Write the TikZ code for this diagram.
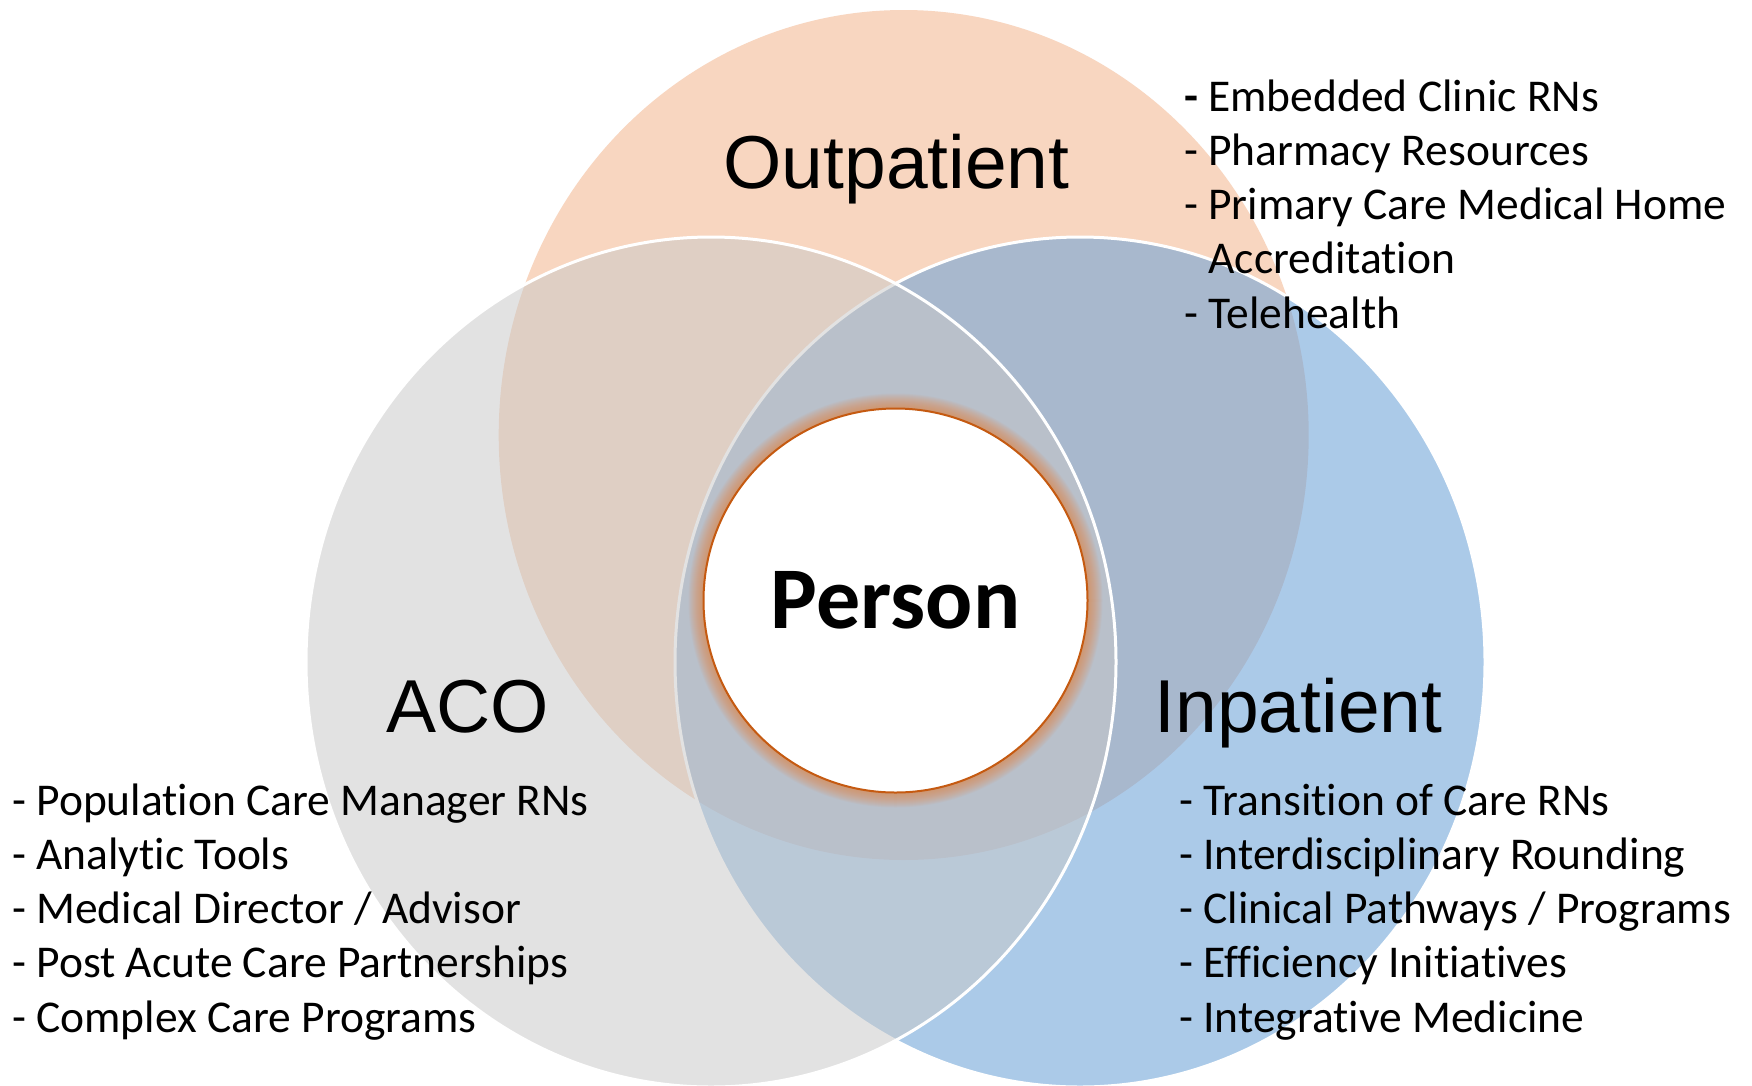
\documentclass[tikz,border=0pt]{standalone}
\usepackage{fontspec}
\setmainfont[Ligatures={NoCommon}]{Carlito}
\newfontfamily\arialf{Liberation Sans}
\definecolor{outF}{RGB}{248,214,192}
\definecolor{inF}{RGB}{109,162,216}
\definecolor{acoF}{RGB}{201,201,201}
\definecolor{personE}{HTML}{C55A11}
\definecolor{glowC}{RGB}{237,125,49}
\begin{document}
\begin{tikzpicture}[x=1pt,y=-1pt,
  region/.style={draw=white, line width=3pt},
  biglabel/.style={font=\arialf\fontsize{75}{80}\selectfont, inner sep=0pt, anchor=base},
  item/.style={font=\fontsize{45.5}{54}\selectfont, inner sep=0pt, anchor=base west}]
\useasboundingbox (0,0) rectangle (1752,1085);
\fill[white] (0,0) rectangle (1752,1085);
% circles
\fill[outF] (903.7,435) ellipse [x radius=405, y radius=425];
\filldraw[region, fill=inF, fill opacity=0.57] (1080,662) ellipse [x radius=405, y radius=425];
\filldraw[region, fill=acoF, fill opacity=0.52] (711,662) ellipse [x radius=405, y radius=425];
% glow
\foreach \k in {1,...,15}
  \fill[glowC, fill opacity=0.05] (895.5,600.5) circle [radius=192+\k];
\node[circle, draw=personE, line width=2pt, fill=white, minimum size=384pt, inner sep=0pt,
  font=\bfseries\fontsize{88}{90}\selectfont] (person) at (895.5,600.5) {Person};
% labels
\node[biglabel] (outlbl) at (896.5,188) {Outpatient};
\node[biglabel] (acolbl) at (468,732) {ACO};
\node[biglabel] (inlbl) at (1298.5,732) {Inpatient};
% outpatient list
\node[item] (op1) at (1184,111) {{\bfseries -} Embedded Clinic RNs};
\node[item] (op2) at (1184,165.25) {- Pharmacy Resources};
\node[item] (op3) at (1184,219.5) {- Primary Care Medical Home};
\node[item] (op4) at (1184,273.75) {\phantom{- }Accreditation};
\node[item] (op5) at (1184,328) {- Telehealth};
% aco list
\foreach \t [count=\i] in {Population Care Manager RNs, Analytic Tools, Medical Director / Advisor, Post Acute Care Partnerships, Complex Care Programs}
  \node[item] (aco\i) at (12,{815+54.25*(\i-1)}) {- \t};
% inpatient list
\foreach \t [count=\i] in {Transition of Care RNs, Interdisciplinary Rounding, Clinical Pathways / Programs, Efficiency Initiatives, Integrative Medicine}
  \node[item] (inp\i) at (1179,{815+54.25*(\i-1)}) {- \t};
\end{tikzpicture}
\end{document}
